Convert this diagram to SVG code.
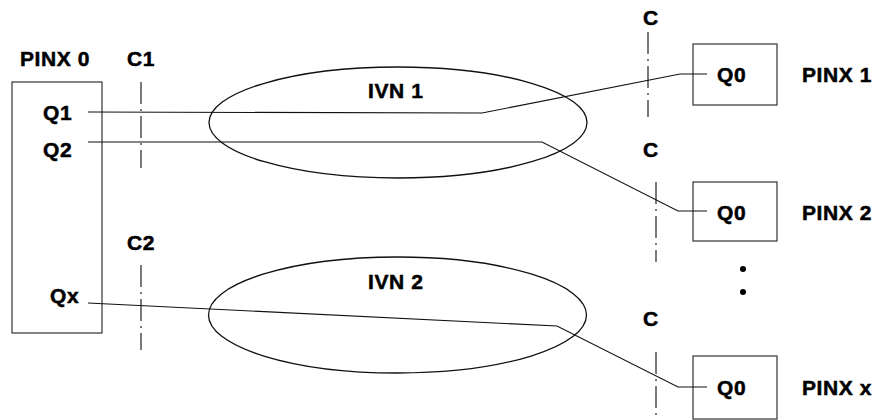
<svg xmlns="http://www.w3.org/2000/svg" width="875" height="420" viewBox="0 0 875 420">
<style>
text{font-family:"Liberation Sans",Arial,sans-serif;font-weight:bold;font-size:21px;fill:#000;stroke:#000;stroke-width:0.5;letter-spacing:0.6px}
.box{fill:none;stroke:#333;stroke-width:1.2}
.ell{fill:none;stroke:#111;stroke-width:1.3}
.wire{fill:none;stroke:#111;stroke-width:1.1}
.cut{fill:none;stroke:#222;stroke-width:1.2;stroke-dasharray:22 5 2 5}
</style>
<rect width="875" height="420" fill="#fff"/>
<g id="pinx0">
<rect class="box" x="12" y="82" width="90" height="251"/>
<text x="20" y="66">PINX 0</text>
<text x="43" y="120">Q1</text>
<text x="43" y="157">Q2</text>
<text x="50" y="303">Qx</text>
</g>
<g id="ivn1">
<ellipse class="ell" cx="398" cy="122.5" rx="189" ry="55.5"/>
<text x="368" y="98">IVN 1</text>
</g>
<g id="ivn2">
<ellipse class="ell" cx="397.5" cy="315" rx="189" ry="58"/>
<text x="368" y="289">IVN 2</text>
</g>
<g id="pinx1">
<rect class="box" x="693" y="44" width="84" height="61"/>
<text x="717" y="82">Q0</text>
<text x="802" y="82">PINX 1</text>
</g>
<g id="pinx2">
<rect class="box" x="693" y="182" width="84" height="59"/>
<text x="717" y="220">Q0</text>
<text x="802" y="220">PINX 2</text>
</g>
<g id="pinxx">
<rect class="box" x="693" y="356" width="84" height="63"/>
<text x="717" y="395">Q0</text>
<text x="802" y="395">PINX x</text>
</g>
<g id="ellipsis">
<circle cx="743" cy="269" r="3"/>
<circle cx="743" cy="292" r="3"/>
</g>
<g id="cuts">
<line class="cut" x1="141" y1="82" x2="141" y2="168"/>
<text x="127" y="66">C1</text>
<line class="cut" x1="141" y1="265" x2="141" y2="350"/>
<text x="127" y="250">C2</text>
<line class="cut" x1="648" y1="32" x2="648" y2="117"/>
<text x="643" y="25">C</text>
<line class="cut" x1="656" y1="182" x2="656" y2="262"/>
<text x="643" y="157">C</text>
<line class="cut" x1="656" y1="352" x2="656" y2="420"/>
<text x="643" y="326">C</text>
</g>
<g id="connectors">
<polyline class="wire" points="88,112 482,113 680,74 707,74"/>
<polyline class="wire" points="88,142 542,142 678,211 707,211"/>
<polyline class="wire" points="88,303 557,326 678,387 707,387"/>
</g>
</svg>
